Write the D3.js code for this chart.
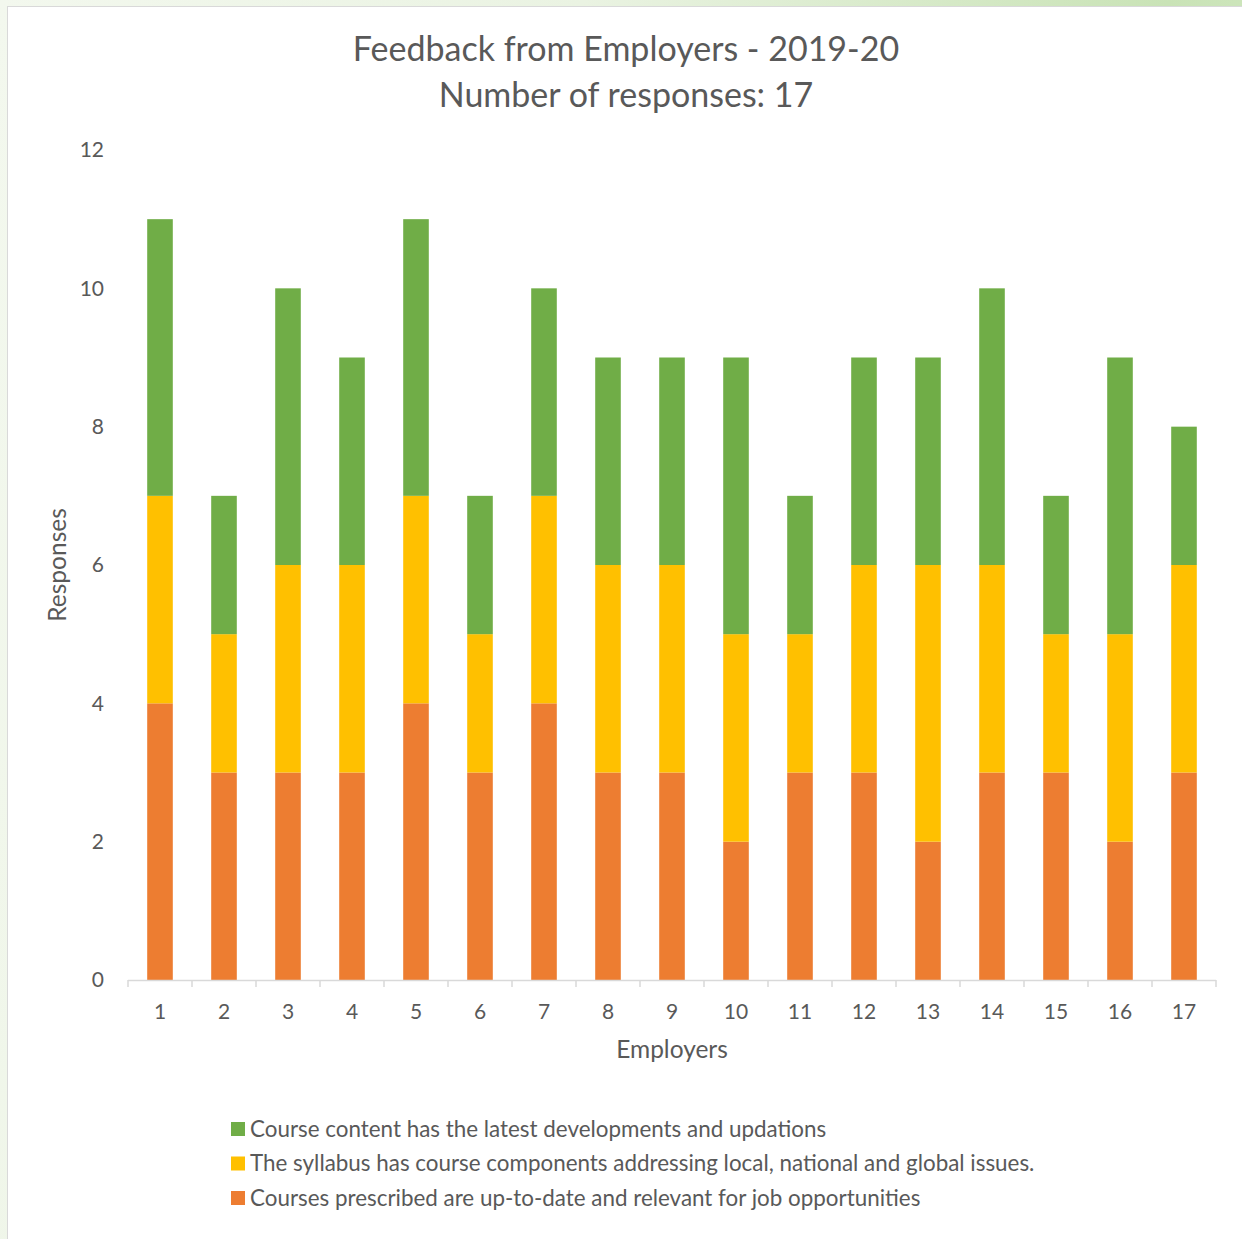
<!DOCTYPE html>
<html lang="en">
<head>
  <meta charset="UTF-8" />
  <title>Feedback from Employers - 2019-20</title>
  <script src="https://d3js.org/d3.v7.min.js"></script>
  <style>
    body { margin: 0; background: linear-gradient(100deg, #f3f8ee 0%, #eaf3e2 40%, #c9e3b6 80%, #d6ebc8 100%); }
    svg { display: block; }
    text { font-family: Lato, "Open Sans", sans-serif; fill: #595959; }
  </style>
</head>
<body>
  <svg id="chart" width="1242" height="1239"></svg>

  <script>
    // Data
    const employers = ["1","2","3","4","5","6","7","8","9","10","11","12","13","14","15","16","17"];
    const upToDate  = [4, 3, 3, 3, 4, 3, 4, 3, 3, 2, 3, 3, 2, 3, 3, 2, 3];
    const syllabus  = [3, 2, 3, 3, 3, 2, 3, 3, 3, 3, 2, 3, 4, 3, 2, 3, 3];
    const latest    = [4, 2, 4, 3, 4, 2, 3, 3, 3, 4, 2, 3, 3, 4, 2, 4, 2];
    const yTicks    = [0, 2, 4, 6, 8, 10, 12];

    const seriesNames = [
      "Courses prescribed are up-to-date and relevant for job opportunities",
      "The syllabus has course components addressing local, national and global issues.",
      "Course content has the latest developments and updations"
    ];
    const colors = ["#ED7D31", "#FFC000", "#70AD47"];

    const table = employers.map((e, i) => ({ emp: e, a: upToDate[i], b: syllabus[i], c: latest[i] }));

    const svg = d3.select("#chart");

    // white chart area with thin border
    svg.append("rect")
      .attr("x", 7.5).attr("y", 6.5)
      .attr("width", 1250).attr("height", 1250)
      .attr("fill", "#fff")
      .attr("stroke", "#d9d9d9");

    const margin = {top: 150, left: 128, right: 26, bottom: 259};
    const width = 1242 - margin.left - margin.right,
          height = 1239 - margin.top - margin.bottom;

    const chart = svg.append("g")
      .attr("transform", `translate(${margin.left},${margin.top})`);

    const x = d3.scaleBand()
      .domain(employers)
      .range([0, width])
      .paddingInner(0.6)
      .paddingOuter(0.3);

    const y = d3.scaleLinear()
      .domain([0, 12])
      .range([height, 0]);

    const stack = d3.stack().keys(["a", "b", "c"])(table);

    chart.selectAll(".layer")
      .data(stack)
      .enter().append("g")
        .attr("fill", (d, i) => colors[i])
      .selectAll("rect")
      .data(d => d)
      .enter().append("rect")
        .attr("x", d => x(d.data.emp))
        .attr("y", d => y(d[1]))
        .attr("width", x.bandwidth())
        .attr("height", d => y(d[0]) - y(d[1]));

    // Y tick labels (no axis line)
    chart.selectAll(".ytick")
      .data(yTicks)
      .enter().append("text")
        .attr("x", -24)
        .attr("y", d => y(d))
        .attr("dy", "0.35em")
        .attr("text-anchor", "end")
        .attr("font-size", "21px")
        .text(d => d);

    // X axis line and tick marks at category boundaries
    const step = width / employers.length;
    chart.append("line")
      .attr("x1", 0).attr("x2", width)
      .attr("y1", height + 0.5).attr("y2", height + 0.5)
      .attr("stroke", "#d9d9d9").attr("stroke-width", 1.5);

    chart.selectAll(".xtickmark")
      .data(d3.range(employers.length + 1))
      .enter().append("line")
        .attr("x1", d => d * step).attr("x2", d => d * step)
        .attr("y1", height).attr("y2", height + 7)
        .attr("stroke", "#d9d9d9").attr("stroke-width", 1.5);

    chart.selectAll(".xlabel")
      .data(employers)
      .enter().append("text")
        .attr("x", d => x(d) + x.bandwidth() / 2)
        .attr("y", height + 39)
        .attr("text-anchor", "middle")
        .attr("font-size", "21px")
        .text(d => d);

    // Title
    svg.append("text")
      .attr("x", 626).attr("y", 61)
      .attr("text-anchor", "middle")
      .attr("font-size", "34px")
      .text("Feedback from Employers - 2019-20");

    svg.append("text")
      .attr("x", 626).attr("y", 107)
      .attr("text-anchor", "middle")
      .attr("font-size", "34px")
      .text("Number of responses: 17");

    // Axis titles
    svg.append("text")
      .attr("x", 672).attr("y", 1058)
      .attr("text-anchor", "middle")
      .attr("font-size", "24.5px")
      .text("Employers");

    svg.append("text")
      .attr("transform", "translate(66,565) rotate(-90)")
      .attr("text-anchor", "middle")
      .attr("font-size", "24.5px")
      .text("Responses");

    // Legend
    const legendOrder = [2, 1, 0];
    const legend = svg.selectAll(".legend")
      .data(legendOrder)
      .enter().append("g")
        .attr("transform", (d, i) => `translate(231,${1122 + i * 34.5})`);

    legend.append("rect")
      .attr("width", 14).attr("height", 14)
      .attr("fill", d => colors[d]);

    legend.append("text")
      .attr("x", 19).attr("y", 7)
      .attr("dy", "0.35em")
      .attr("font-size", "22.4px")
      .text(d => seriesNames[d]);
  </script>
</body>
</html>
